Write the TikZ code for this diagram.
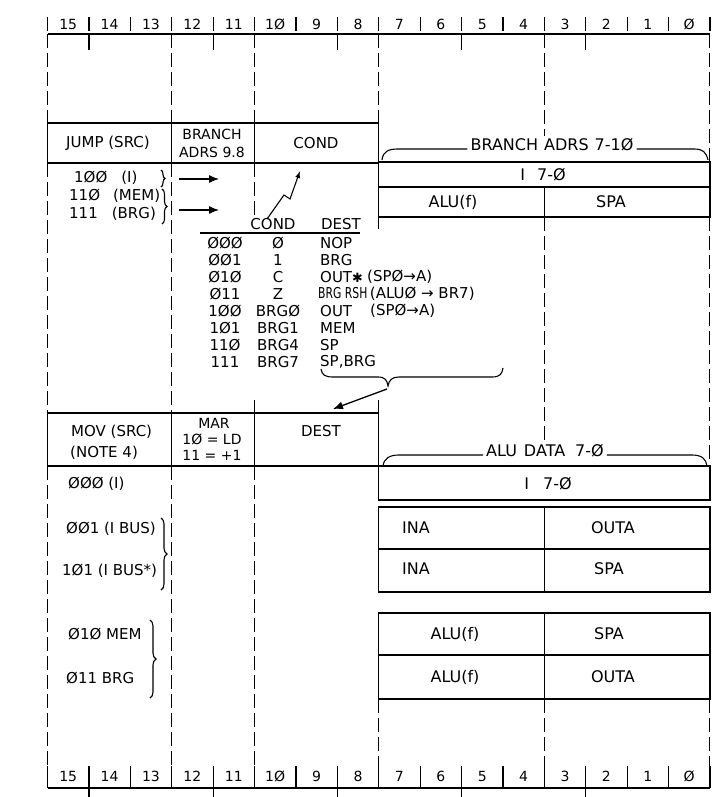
\documentclass[tikz,border=0pt]{standalone}
\usepackage{fontspec}
\usepackage{graphicx}
\setmainfont{DejaVu Sans}
\usetikzlibrary{arrows.meta,decorations.pathreplacing}
\newcommand{\arr}{→}
\newcommand{\bigast}{\scalebox{0.85}{✱}}
\begin{document}
\begin{tikzpicture}[x=1pt,y=-1pt,
  rule/.style={line width=1.2pt},
  gridl/.style={line width=1.1pt, dash pattern=on 14pt off 5pt},
  box/.style={draw, line width=1.3pt},
  thinl/.style={line width=1.1pt},
  conn/.style={line width=1.3pt, -{Latex[length=10pt,width=8pt]}},
  hd/.style={font=\fontsize{15}{17}\selectfont, inner sep=0pt},
  bx/.style={font=\fontsize{16}{18}\selectfont, inner sep=0pt},
  sm/.style={font=\fontsize{14}{15}\selectfont, inner sep=0pt},
  ls/.style={font=\fontsize{15}{16}\selectfont, inner sep=0pt},
  tb/.style={font=\fontsize{15}{16}\selectfont, inner sep=0pt},
  num/.style={font=\fontsize{14}{15}\selectfont, inner sep=0pt},
  brc/.style={decorate, decoration={brace, amplitude=#1}, line width=1.1pt},
]
\useasboundingbox (0,0) rectangle (714,797);

% ---------- rulers ----------
\foreach \n [count=\i from 0] in {15,14,13,12,11,1Ø,9,8,7,6,5,4,3,2,1,Ø} {
  \pgfmathsetmacro\xx{47.5+41.4*(\i+0.5)}
  \node[num] (t\i) at (\xx,24) {\n};
  \node[num] (b\i) at (\xx,776) {\n};
}
\draw[rule] (47.5,34) -- (709.9,34);
\draw[rule] (47.5,788) -- (709.9,788);
\foreach \k in {0,...,16} {
  \pgfmathsetmacro\xx{47.5+41.4*\k}
  \draw[rule] (\xx,17) -- (\xx,31);
  \draw[rule] (\xx,766) -- (\xx,788);
}
\foreach \k in {1,4,7,10,13} {
  \pgfmathsetmacro\xx{47.5+41.4*\k}
  \draw[rule] (\xx,34) -- (\xx,50);
  \draw[rule] (\xx,788) -- (\xx,797);
}

% ---------- dashed field lines ----------
\foreach \xx/\ya/\yb in {47.5/34/123, 47.5/163/413, 47.5/466/766,
  171.7/34/123, 171.7/163/413, 171.7/466/766,
  254.5/34/123, 254.5/163/219, 254.5/466/766,
  378.7/34/123, 378.7/217/229, 378.7/699/766,
  544.3/34/136, 544.3/217/443, 544.3/699/766,
  709.9/34/162, 709.9/217/462, 709.9/699/766}
  \draw[gridl] (\xx,\ya) -- (\xx,\yb);
\draw[rule] (254.5,400) -- (254.5,413);
\draw[rule] (378.7,400) -- (378.7,413);

% ---------- JUMP box ----------
\draw[box] (47.5,123) rectangle (378.7,163);
\draw[box] (171.7,123) -- (171.7,163);
\draw[box] (254.5,123) -- (254.5,163);
\node[hd] (jump) at (108,143) {JUMP (SRC)};
\node[sm] (bra1) at (212,134) {BRANCH};
\node[sm] (bra2) at (212,152) {ADRS 9.8};
\node[hd] (cond) at (316,143) {COND};

% ---------- BRANCH ADRS box ----------
\node[bx, inner xsep=3pt] (bradrs) at (552,145) {BRANCH\hspace{6pt}ADRS\hspace{6pt}7-1Ø};
\draw[thinl] (382,160) .. controls (383,151) and (389,149) .. (398,149) -- ([yshift=-4pt]bradrs.west);
\draw[thinl] ([yshift=-4pt]bradrs.east) -- (694,149) .. controls (703,149) and (706,152) .. (708,160);
\draw[box] (378.7,162) rectangle (709.9,217);
\draw[box] (378.7,187) -- (709.9,187);
\draw[box] (544.3,187) -- (544.3,217);
\node[bx] (i7a) at (543,175) {I\hspace{12pt}7-Ø};
\node[bx] (aluf1) at (453,202) {ALU(f)};
\node[bx] (spa1) at (611,202) {SPA};

% ---------- JUMP list ----------
\node[ls, anchor=west] (j1) at (74,178) {1ØØ\hspace{14pt}(I)};
\node[ls, anchor=west] (j2) at (69,196) {11Ø\hspace{13pt}(MEM)};
\node[ls, anchor=west] (j3) at (69,214) {111\hspace{14pt}(BRG)};
\draw[brc=4pt] (161,170) -- (161,187);
\draw[brc=5pt] (162,189) -- (162,224);
\coordinate (a1s) at (179,179);
\coordinate (a1e) at (219,179);
\coordinate (a2s) at (179,210);
\coordinate (a2e) at (219,210);
\draw[conn] (a1s) -- (a1e);
\draw[conn] (a2s) -- (a2e);
\coordinate (sqa) at (267,219);
\coordinate (sqb) at (300,171);
\draw[line width=1.1pt, -{Latex[length=7pt,width=5pt]}] (sqa) -- (284,195) -- (290,199) -- (sqb);

% ---------- COND / DEST table ----------
\node[tb] (hcond) at (273,224) {COND};
\node[tb] (hdest) at (341,224) {DEST};
\draw[line width=1.6pt] (200,233) -- (360,233);
\foreach \y/\c/\k [count=\i] in {243/ØØØ/Ø, 260/ØØ1/1, 277/Ø1Ø/C, 294/Ø11/Z, 311/1ØØ/BRGØ, 328/1Ø1/BRG1, 345/11Ø/BRG4, 362/111/BRG7} {
  \node[tb] (code\i) at (225,\y) {\c};
  \node[tb] (cnd\i) at (278,\y) {\k};
}
\node[tb, anchor=west] (d1) at (320,243) {NOP};
\node[tb, anchor=west] (d2) at (320,260) {BRG};
\node[tb, anchor=west] (d3) at (320,277) {OUT\bigast};
\node[tb, anchor=west] (d3b) at (367,277) {(SPØ\arr A)};
\node[tb, anchor=west] (d4) at (318,294) {\scalebox{0.72}[1]{BRG RSH}\,(ALUØ \arr{} BR7)};
\node[tb, anchor=west] (d5) at (320,311) {OUT};
\node[tb, anchor=west] (d5b) at (370,311) {(SPØ\arr A)};
\node[tb, anchor=west] (d6) at (320,328) {MEM};
\node[tb, anchor=west] (d7) at (320,345) {SP};
\node[tb, anchor=west] (d8) at (320,362) {SP,BRG};
\draw[thinl] (321,369) .. controls (322,375) and (325,377) .. (333,377) -- (378,377)
  .. controls (385,377) and (387,380) .. (388,386)
  .. controls (389,380) and (392,377) .. (399,377) -- (492,377)
  .. controls (500,377) and (502,374) .. (503,368);
\coordinate (brtip) at (387,389);
\coordinate (destin) at (333,409);
\draw[conn] (brtip) -- (destin);

% ---------- MOV box ----------
\draw[box] (47.5,413) rectangle (378.7,466);
\draw[box] (171.7,413) -- (171.7,466);
\draw[box] (254.5,413) -- (254.5,466);
\node[hd, anchor=west] (mov1) at (71,432) {MOV (SRC)};
\node[hd, anchor=west] (mov2) at (70,453) {(NOTE 4)};
\node[sm] (mar1) at (214,423) {MAR};
\node[sm] (mar2) at (212,439) {1Ø = LD};
\node[sm] (mar3) at (212,455) {11 = +1};
\node[hd] (dest2) at (321,431) {DEST};

% ---------- ALU DATA boxes ----------
\node[bx, inner xsep=3pt] (aludata) at (545,451) {ALU\hspace{7pt}DATA\hspace{10pt}7-Ø};
\draw[thinl] (383,466) .. controls (384,458) and (390,455) .. (399,455) -- ([yshift=-4pt]aludata.west);
\draw[thinl] ([yshift=-4pt]aludata.east) -- (692,455) .. controls (702,455) and (706,459) .. (707,466);
\draw[box] (378.7,466) rectangle (709.9,500);
\node[bx] (i7b) at (548,484) {I\hspace{14pt}7-Ø};
\draw[box] (378.7,507) rectangle (709.9,592);
\draw[box] (378.7,549) -- (709.9,549);
\draw[box] (544.3,507) -- (544.3,592);
\node[bx, anchor=west] (ina1) at (402,528) {INA};
\node[bx] (outa1) at (613,528) {OUTA};
\node[bx, anchor=west] (ina2) at (402,569) {INA};
\node[bx] (spa2) at (609,569) {SPA};
\draw[box] (378.7,613) rectangle (709.9,699);
\draw[box] (378.7,655) -- (709.9,655);
\draw[box] (544.3,613) -- (544.3,699);
\node[bx] (aluf2) at (455,634) {ALU(f)};
\node[bx] (spa3) at (609,634) {SPA};
\node[bx] (aluf3) at (455,677) {ALU(f)};
\node[bx] (outa2) at (613,677) {OUTA};

% ---------- MOV list ----------
\node[ls, anchor=west] (m1) at (68,484) {ØØØ (I)};
\node[ls, anchor=west] (m2) at (66,529) {ØØ1 (I BUS)};
\node[ls, anchor=west] (m3) at (62,571) {1Ø1 (I BUS*)};
\draw[brc=6pt] (161,518) -- (161,590);
\node[ls, anchor=west] (m4) at (68,634) {Ø1Ø MEM};
\node[ls, anchor=west] (m5) at (66,678) {Ø11 BRG};
\draw[brc=6pt] (150,620) -- (150,698);
\end{tikzpicture}
\end{document}
